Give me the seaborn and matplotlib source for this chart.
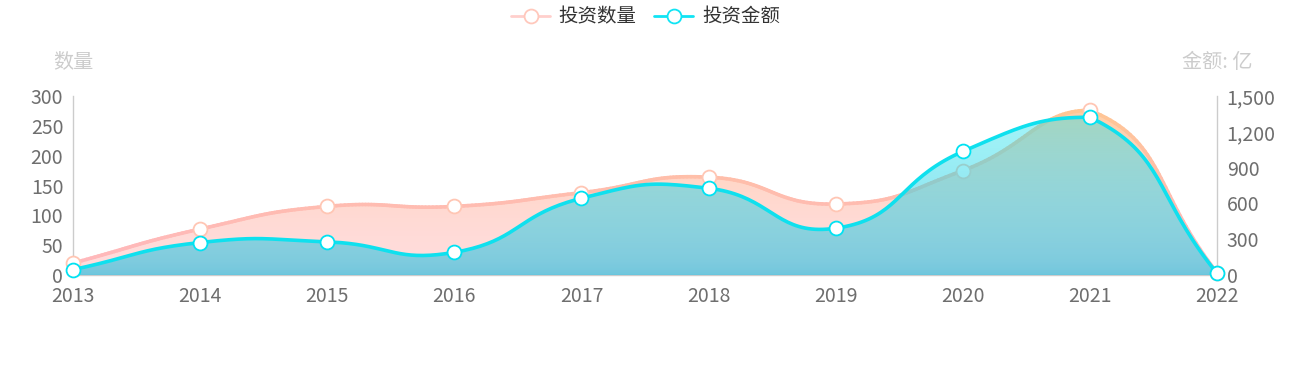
import numpy as np
import matplotlib
matplotlib.use('Agg')
import matplotlib.pyplot as plt
import seaborn as sns
from matplotlib.collections import LineCollection
from matplotlib.lines import Line2D
from matplotlib.patches import Polygon
from matplotlib.colors import to_rgb

# ---------------- data ----------------
years = ['2013', '2014', '2015', '2016', '2017', '2018', '2019', '2020', '2021', '2022']
count_values = [20, 77, 115, 115, 138, 164, 119, 175, 276, 4]
amount_values = [45, 272, 278, 190, 643, 727, 392, 1035, 1322, 15]
count_ticks = [0, 50, 100, 150, 200, 250, 300]
amount_ticks = [0, 300, 600, 900, 1200, 1500]
series_names = ['投资数量', '投资金额']
left_axis_name = '数量'
right_axis_name = '金额: 亿'

sns.set_theme(style='white')
plt.rcParams['font.family'] = ['Noto Sans CJK SC', 'DejaVu Sans']

W, H = 1291, 375
fig = plt.figure(figsize=(W / 100, H / 100), dpi=100)
L, R, B, T = 73, 1217, 275, 96
ax = fig.add_axes([L / W, 1 - B / H, (R - L) / W, (B - T) / H])
ax2 = ax.twinx()
xs = np.arange(len(years))
ax.set_xlim(0, len(years) - 1)
ax.set_ylim(0, 300)
ax2.set_ylim(0, 1500)


def echarts_smooth(axis, x, y, smooth=0.5, n=40):
    """Bezier smoothing in screen space, constrained to the points' bounding box."""
    pts = axis.transData.transform(np.column_stack([x, y]).astype(float))
    N = len(pts)
    lo = pts.min(axis=0)
    hi = pts.max(axis=0)
    cps = []
    for i in range(N):
        p = pts[i]
        prv = pts[i - 1] if i > 0 else p
        nxt = pts[i + 1] if i < N - 1 else p
        v = (nxt - prv) * smooth
        d0 = np.hypot(*(p - prv))
        d1 = np.hypot(*(p - nxt))
        s = d0 + d1
        if s != 0:
            d0 /= s
            d1 /= s
        c0 = np.clip(p - v * d0, lo, hi)
        c1 = np.clip(p + v * d1, lo, hi)
        cps.append((c0, c1))
    out = [pts[0]]
    t = np.linspace(0, 1, n)[1:, None]
    for i in range(N - 1):
        p0, p1, p2, p3 = pts[i], cps[i][1], cps[i + 1][0], pts[i + 1]
        seg = ((1 - t) ** 3) * p0 + 3 * ((1 - t) ** 2) * t * p1 + 3 * (1 - t) * t ** 2 * p2 + t ** 3 * p3
        out.extend(seg)
    out = np.array(out)
    d = axis.transData.inverted().transform(out)
    return d[:, 0], d[:, 1]


# ---------------- count series (left axis) ----------------
cx, cy = echarts_smooth(ax, xs, count_values)
pink = np.array(to_rgb('#ffb8bc'))
orange = np.array(to_rgb('#ffc88e'))
fill_bot = np.array([255, 220, 220]) / 255
fill_top = np.array([255, 204, 156]) / 255
gh = 256
tv = np.linspace(0, 1, gh)[:, None]  # 0 bottom, 1 top
tq = tv ** 1.8
grad = np.zeros((gh, 2, 4))
grad[:, :, :3] = (fill_bot * (1 - tq) + fill_top * tq)[:, None, :]
grad[:, :, 3] = 1.0
img = ax.imshow(grad, extent=[0, len(years) - 1, 0, 300], aspect='auto', origin='lower',
                zorder=1, interpolation='bilinear')
clip = Polygon(np.column_stack([np.r_[cx, cx[-1], cx[0]], np.r_[cy, 0, 0]]),
               closed=True, transform=ax.transData, facecolor='none', edgecolor='none')
img.set_clip_path(clip)

segs = np.stack([np.column_stack([cx[:-1], cy[:-1]]), np.column_stack([cx[1:], cy[1:]])], axis=1)
tc = np.clip(((cy[:-1] + cy[1:]) / 2 / 300), 0, 1)[:, None] ** 1.5
lcols = pink * (1 - tc) + orange * tc
lc = LineCollection(segs, colors=lcols, linewidths=2.6, zorder=2, capstyle='round')
ax.add_collection(lc)
sns.scatterplot(x=xs, y=count_values, ax=ax, s=100, color='white', edgecolor='#ffc6b4',
                linewidth=1.3, zorder=4, clip_on=False, legend=False)

# ---------------- amount series (right axis) ----------------
ax_, ay_ = echarts_smooth(ax2, xs, amount_values)
bot_c = np.array([92, 196, 222]) / 255
top_c = np.array([0, 230, 240]) / 255
vgrad = np.zeros((gh, 2, 4))
vgrad[:, :, :3] = (bot_c * (1 - tv) + top_c * tv)[:, None, :]
vgrad[:, :, 3] = np.clip(0.92 - 0.58 * np.sqrt(tv), 0.3, 1)
img2 = ax2.imshow(vgrad, extent=[0, len(years) - 1, 0, 1500], aspect='auto', origin='lower',
                  zorder=1, interpolation='bilinear')
clip2 = Polygon(np.column_stack([np.r_[ax_, ax_[-1], ax_[0]], np.r_[ay_, 0, 0]]),
                closed=True, transform=ax2.transData, facecolor='none', edgecolor='none')
img2.set_clip_path(clip2)
sns.lineplot(x=ax_, y=ay_, ax=ax2, sort=False, color='#0fe0ee', linewidth=2.6, zorder=2,
             estimator=None)
sns.scatterplot(x=xs, y=amount_values, ax=ax2, s=100, color='white', edgecolor='#00e2f2',
                linewidth=1.3, zorder=4, clip_on=False, legend=False)

# ---------------- axes styling ----------------
ax.set_xlim(0, len(years) - 1)
ax.set_ylim(0, 300)
ax2.set_ylim(0, 1500)
ax.set_xticks(xs, years)
ax.set_yticks(count_ticks)
ax2.set_yticks(amount_ticks, [f'{v:,}' for v in amount_ticks])
for a in (ax, ax2):
    a.grid(False)
    a.set_xlabel('')
    a.set_ylabel('')
    for s in a.spines.values():
        s.set_visible(False)
ax.spines['left'].set_visible(True)
ax.spines['bottom'].set_visible(True)
ax2.spines['right'].set_visible(True)
for s in (ax.spines['left'], ax.spines['bottom'], ax2.spines['right']):
    s.set_color('#cccccc')
    s.set_linewidth(1.0)
ax.tick_params(axis='x', length=0, pad=8, labelsize=14, colors='#6e6e6e')
ax.tick_params(axis='y', length=0, pad=7, labelsize=14, colors='#6e6e6e')
ax2.tick_params(axis='y', length=0, pad=7, labelsize=14, colors='#6e6e6e')
ax.patch.set_visible(False)

fig.text(73 / W, 1 - 62 / H, left_axis_name, ha='center', va='center', fontsize=14.5, color='#cccccc')
fig.text(1217 / W, 1 - 62 / H, right_axis_name, ha='center', va='center', fontsize=14.5, color='#cccccc')

handles = [
    Line2D([], [], color='#ffcfcc', lw=2, marker='o', markersize=10, markerfacecolor='white',
           markeredgecolor='#ffc8bc', markeredgewidth=1.3),
    Line2D([], [], color='#10e4f4', lw=2, marker='o', markersize=10, markerfacecolor='white',
           markeredgecolor='#10e4f4', markeredgewidth=1.3),
]
fig.legend(handles, series_names, loc='center', bbox_to_anchor=(0.5, 1 - 17 / H), ncol=2,
           frameon=False, fontsize=14, handlelength=2.0, columnspacing=0.9, handletextpad=0.45,
           labelcolor='#333333')

fig.savefig('out.png', dpi=100)
